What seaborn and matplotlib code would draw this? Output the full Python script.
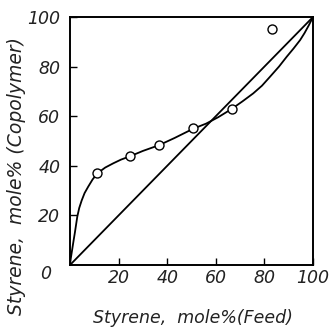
import matplotlib
matplotlib.use("Agg")
import matplotlib.pyplot as plt
import seaborn as sns
import pandas as pd

# Experimental points (feed mole %, copolymer mole %)
feed_pts = [11.3, 24.6, 36.6, 50.8, 66.5, 83.3]
copoly_pts = [37.0, 43.8, 48.3, 55.1, 62.9, 95.2]

# Composition curve
curve_feed = [0, 0.3, 0.7, 1.1, 1.5, 2.0, 3.0, 3.8, 4.8, 6.0, 7.5, 9.3, 11.3, 14.5, 17.8,
              21.0, 24.6, 30.0, 36.6, 43.0, 50.8, 56.0, 61.0, 66.5, 71.0, 75.4, 79.0,
              82.3, 86.0, 89.2, 92.0, 94.7, 96.5, 98.3, 100]
curve_copoly = [0, 2.5, 5.0, 7.5, 10.0, 13.0, 19.5, 23.0, 26.0, 29.0, 31.6, 34.5, 37.0,
                39.3, 41.0, 42.5, 43.8, 46.0, 48.3, 51.2, 55.0, 57.0, 59.6, 62.9, 66.0,
                69.2, 72.3, 75.9, 80.0, 84.0, 87.3, 90.7, 93.5, 96.7, 100]

# Diagonal (ideal) line
diag = [0, 100]

ticks = [20, 40, 60, 80, 100]
tick_labels = ["20", "40", "60", "80", "100"]

sns.set_theme(style="white")
plt.rcParams['font.family'] = ['DejaVu Sans']
plt.rcParams['font.style'] = 'italic'

fig = plt.figure(figsize=(3.34, 3.29), dpi=100)
ax = fig.add_axes([70/334, 64/329, 243/334, 248/329])

lw = 1.3
sns.lineplot(x=diag, y=diag, ax=ax, color="black", linewidth=lw, zorder=2)
sns.lineplot(x=curve_feed, y=curve_copoly, ax=ax, color="black", linewidth=lw,
             sort=False, estimator=None, zorder=2)
sns.scatterplot(x=feed_pts, y=copoly_pts, ax=ax, s=42, facecolor="white",
                edgecolor="black", linewidth=1.0, zorder=3)

ax.set_xlim(0, 100)
ax.set_ylim(0, 100)
for s in ax.spines.values():
    s.set_color("black")
    s.set_linewidth(1.4)

ax.set_xticks(ticks)
ax.set_yticks(ticks)
ax.set_xticklabels(tick_labels, fontsize=12.5, style='italic')
ax.set_yticklabels(tick_labels, fontsize=12.5, style='italic')
ax.tick_params(axis='x', direction='in', length=5, width=1.0, pad=3, colors='black', labelcolor='#222222')
ax.tick_params(axis='y', direction='in', length=5, width=1.0, pad=7, colors='black', labelcolor='#222222')
ax.tick_params(bottom=True, left=True, top=False, right=False)

ax.text(-0.1, -0.035, "0", transform=ax.transAxes, fontsize=12.5, style='italic',
        ha='center', va='center', color='#222222')

ax.set_xlabel("Styrene,  mole%(Feed)", fontsize=12.5, style='italic', color='#222222')
ax.xaxis.label.set_va('center')
ax.xaxis.set_label_coords(0.504, -0.215)
ax.set_ylabel("Styrene,  mole% (Copolymer)", fontsize=13.5, style='italic', color='#222222')
ax.yaxis.label.set_va('center')
ax.yaxis.set_label_coords(-0.222, 0.36)

fig.savefig("out.png", dpi=100, facecolor="white")
